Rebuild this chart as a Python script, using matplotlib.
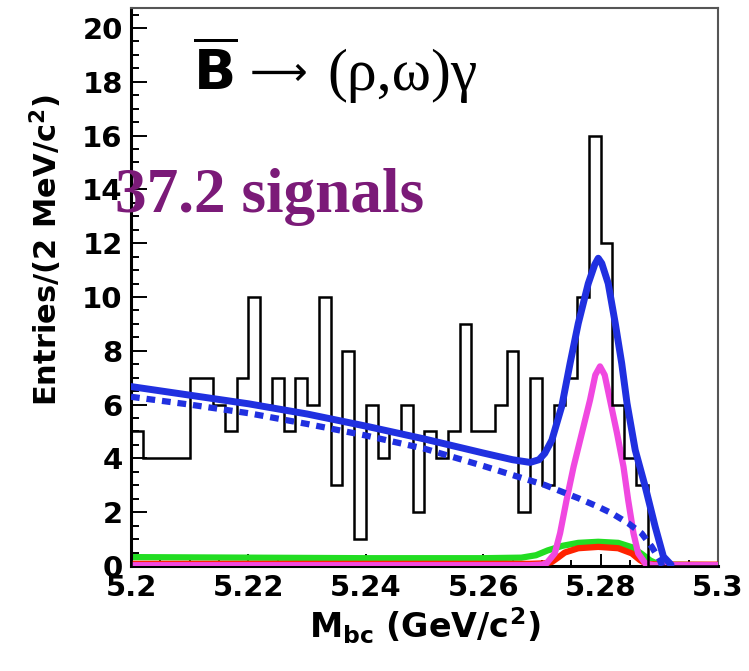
import numpy as np
import matplotlib
matplotlib.use('Agg')
import matplotlib.pyplot as plt
from matplotlib.ticker import MultipleLocator, FixedLocator

plt.rcParams['font.family'] = ['DejaVu Sans']
plt.rcParams['font.weight'] = 'bold'
plt.rcParams['mathtext.fontset'] = 'custom'
plt.rcParams['mathtext.rm'] = 'Liberation Serif:weight=normal'
plt.rcParams['mathtext.bf'] = 'DejaVu Sans:bold'
plt.rcParams['mathtext.it'] = 'DejaVu Sans:bold:italic'
plt.rcParams['mathtext.default'] = 'bf'

# histogram: 50 bins of 2 MeV between 5.20 and 5.30 GeV
bin_edges = np.linspace(5.2, 5.3, 51)
counts = [5, 4, 4, 4, 4, 7, 7, 6, 5, 7,
          10, 6, 7, 5, 7, 6, 10, 3, 8, 1,
          6, 4, 5, 6, 2, 5, 4, 5, 9, 5,
          5, 6, 8, 2, 7, 3, 6, 7, 10, 16,
          12, 6, 4, 3, 0, 0, 0, 0, 0, 0]

# fit curves
total_x = [5.200, 5.210, 5.220, 5.230, 5.240, 5.250, 5.260, 5.265, 5.268, 5.2695,
           5.2705, 5.2717, 5.2734, 5.2748, 5.2762, 5.2779, 5.2790, 5.2796, 5.2802,
           5.2813, 5.2825, 5.2836, 5.2845, 5.2859, 5.2876, 5.2893, 5.2907, 5.2920]
total_y = [6.67, 6.35, 6.03, 5.65, 5.20, 4.72, 4.20, 3.95, 3.85, 3.95,
           4.19, 4.68, 5.95, 7.53, 9.02, 10.5, 11.2, 11.44, 11.25,
           10.5, 9.02, 7.53, 6.05, 4.31, 2.95, 1.46, 0.35, 0.05]

bkg_x = [5.200, 5.210, 5.220, 5.230, 5.240, 5.250, 5.260, 5.265, 5.2705, 5.2762,
         5.2796, 5.2819, 5.2847, 5.2870, 5.2887, 5.2901, 5.2905]
bkg_y = [6.29, 6.00, 5.68, 5.28, 4.85, 4.36, 3.72, 3.38, 3.01, 2.52,
         2.20, 1.96, 1.59, 1.21, 0.72, 0.22, 0.0]

sig_x = [5.200, 5.268, 5.2700, 5.2708, 5.2722, 5.2731, 5.2742, 5.2754, 5.2768, 5.2782,
         5.2791, 5.2799, 5.2807, 5.2816, 5.2828, 5.2839, 5.2847, 5.2856, 5.2864,
         5.2876, 5.2890, 5.300]
sig_y = [0.03, 0.03, 0.05, 0.1, 0.47, 1.22, 2.45, 3.69, 4.93, 6.17,
         7.1, 7.42, 7.1, 6.17, 4.93, 3.69, 2.45, 1.22, 0.47,
         0.1, 0.03, 0.03]

green_x = [5.200, 5.220, 5.240, 5.260, 5.2665, 5.2690, 5.2710, 5.2735, 5.2762, 5.2796,
           5.2830, 5.2853, 5.2870, 5.2885, 5.2900, 5.300]
green_y = [0.33, 0.31, 0.29, 0.29, 0.31, 0.40, 0.58, 0.75, 0.86, 0.90,
           0.86, 0.70, 0.45, 0.20, 0.05, 0.03]

red_x = [5.200, 5.268, 5.2705, 5.2717, 5.2728, 5.2739, 5.2762, 5.2796, 5.2830,
         5.2853, 5.2867, 5.2878, 5.290, 5.300]
red_y = [0.08, 0.08, 0.1, 0.15, 0.32, 0.50, 0.66, 0.71, 0.66,
         0.47, 0.22, 0.08, 0.05, 0.05]

x_ticks = [5.2, 5.22, 5.24, 5.26, 5.28, 5.3]
x_tick_labels = ['5.2', '5.22', '5.24', '5.26', '5.28', '5.3']
y_ticks = [0, 2, 4, 6, 8, 10, 12, 14, 16, 18, 20]

fig = plt.figure(figsize=(7.49, 6.71), dpi=100)
ax = fig.add_axes([0.1749, 0.1565, 0.7837, 0.8323])

ax.plot(green_x, green_y, color='#22dd22', lw=4.5, zorder=2)
ax.plot(red_x, red_y, color='#ff2200', lw=4.5, zorder=3)
ax.plot(sig_x, sig_y, color='#f048e0', lw=4.5, zorder=4)
ax.stairs(counts, bin_edges, color='black', lw=1.8, zorder=5)
ax.plot(bkg_x, bkg_y, color='#2030e0', lw=4.5, ls=(0, (1.4, 1.1)), zorder=6)
ax.plot(total_x, total_y, color='#2030e0', lw=5.0, zorder=7,
        solid_capstyle='round', solid_joinstyle='round')

ax.set_xlim(5.2, 5.3)
ax.set_ylim(0, 20.76)
ax.xaxis.set_major_locator(FixedLocator(x_ticks))
ax.set_xticklabels(x_tick_labels)
ax.xaxis.set_minor_locator(MultipleLocator(0.005))
ax.yaxis.set_major_locator(FixedLocator(y_ticks))
ax.yaxis.set_minor_locator(MultipleLocator(0.5))
ax.tick_params(axis='both', which='both', direction='in', labelsize=21, width=1.4)
ax.tick_params(axis='y', which='major', length=11.5, pad=6)
ax.tick_params(axis='y', which='minor', length=5.8)
ax.tick_params(axis='x', which='major', length=8.5, pad=6)
ax.tick_params(axis='x', which='minor', length=4.3)
for lab in ax.get_xticklabels() + ax.get_yticklabels():
    lab.set_fontweight('bold')

ax.spines['left'].set_linewidth(2.2)
ax.spines['bottom'].set_linewidth(2.2)
for s in ['top', 'right']:
    ax.spines[s].set_linewidth(1.5)
    ax.spines[s].set_color('#555555')

ax.set_xlabel(r'M$_{bc}$ (GeV/c$^{2}$)', fontsize=24, fontweight='bold', labelpad=2)
ax.set_ylabel(r'Entries/(2 MeV/c$^{2}$)', fontsize=22, fontweight='bold', loc='top')
ax.yaxis.set_label_coords(-0.114, 0.845)

# decay label: bold B-bar, arrow, serif (rho,omega)gamma
ax.text(5.2106, 17.7, r'$\overline{\mathbf{B}}$', fontsize=40,
        ha='left', va='baseline', zorder=8)
ax.text(5.2203, 17.87, '\u27f6', fontsize=29, fontweight='normal',
        family=['DejaVu Sans'], ha='left', va='baseline', zorder=8)
ax.text(5.2334, 17.7, '(\u03c1,\u03c9)\u03b3', fontsize=43, fontweight='normal',
        family=['Liberation Serif', 'DejaVu Serif'], ha='left', va='baseline', zorder=8)

ax.text(5.1973, 13.16, '37.2 signals', fontsize=45.5, fontweight='bold',
        family='Liberation Serif', color='#7b1a78', ha='left', va='baseline',
        zorder=8, clip_on=False)

fig.savefig('out.png', dpi=100)
